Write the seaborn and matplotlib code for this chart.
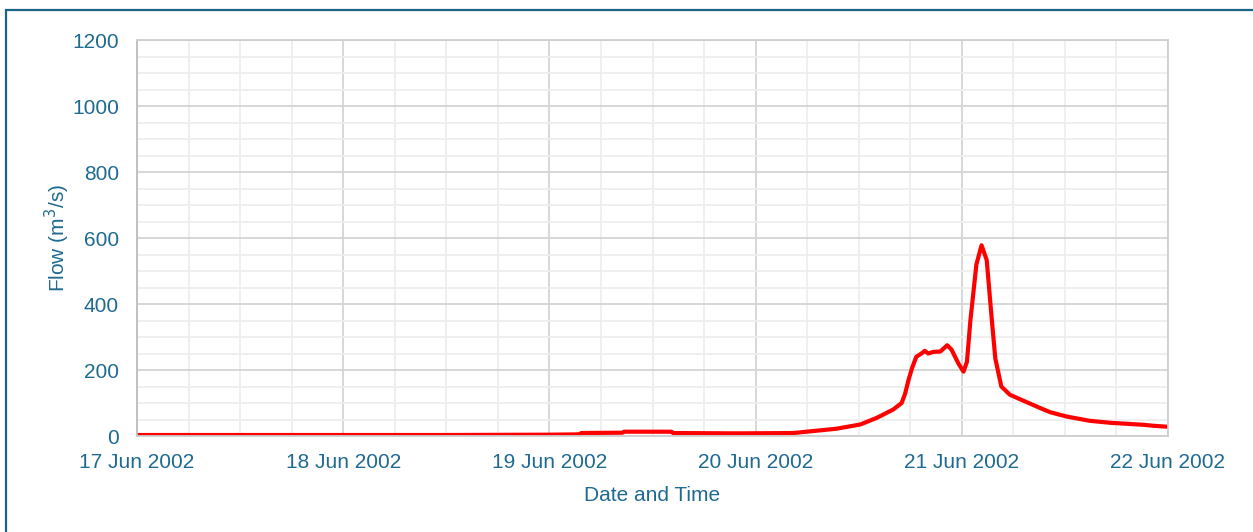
import pandas as pd
import matplotlib
matplotlib.use("Agg")
import matplotlib.pyplot as plt
import matplotlib.dates as mdates
import seaborn as sns
from matplotlib.patches import Rectangle

hours = [0, 12, 24, 36, 48, 51.5, 51.7, 56.5, 56.7, 62.2, 62.4, 70, 76.4,
         78.7, 81.4, 84.2, 86.1, 88.0, 89.0, 89.4, 89.8, 90.2, 90.7, 91.3,
         91.7, 92.1, 92.7, 93.5, 94.3, 94.8, 95.6, 96.2, 96.6, 97.0, 97.7,
         98.3, 98.9, 99.5, 99.9, 100.6, 101.6, 103.6, 105.1, 106.3, 108.2,
         110.9, 113.3, 115.2, 117.1, 118.3, 120]
flow = [3, 3, 3, 3, 4, 5, 9, 10, 13, 13, 9, 8, 9,
        15, 22, 35, 55, 80, 100, 128, 170, 205, 240, 250,
        258, 250, 255, 256, 275, 262, 220, 195, 225, 350, 520,
        578, 533, 350, 235, 150, 125, 102, 85, 72, 59,
        46, 40, 37, 34, 31, 28]

y_ticks = [0, 200, 400, 600, 800, 1000, 1200]
x_label = "Date and Time"
y_label = "Flow (m$^3$/s)"

start = pd.Timestamp("2002-06-17 00:00")
df = pd.DataFrame({"time": start + pd.to_timedelta(hours, unit="h"), "flow": flow})

TXT = "#1F6A90"
sns.set_style("white")
plt.rcParams["font.family"] = ["Liberation Sans", "DejaVu Sans"]

fig = plt.figure(figsize=(12.53, 5.32), dpi=100)
ax = fig.add_axes([137 / 1253, 1 - 436 / 532, 1031 / 1253, 396 / 532])

# grid first so the line sits on top
ax.set_axisbelow(True)
ax.set_xlim(start, start + pd.Timedelta(days=5))
ax.set_ylim(0, 1200)
ax.set_yticks(y_ticks)
ax.set_yticks(range(0, 1201, 50), minor=True)
ax.xaxis.set_major_locator(mdates.DayLocator())
ax.xaxis.set_minor_locator(mdates.HourLocator(byhour=[6, 12, 18]))
ax.xaxis.set_major_formatter(mdates.DateFormatter("%d %b %Y"))
ax.grid(which="major", color="#d4d4d4", linewidth=1.3)
ax.grid(which="minor", color="#eeeeee", linewidth=1.3)

sns.lineplot(data=df, x="time", y="flow", ax=ax, color="#FF0000", linewidth=3.0)

for side in ["left", "bottom", "top", "right"]:
    ax.spines[side].set_color("#cfcfcf")
    ax.spines[side].set_linewidth(1.3)
ax.spines["left"].set_color("#bdbdbd")

ax.tick_params(which="both", length=0, labelsize=15, labelcolor=TXT)
ax.tick_params(axis="y", pad=13)
ax.tick_params(axis="x", pad=12)
ax.set_xlabel(x_label, fontsize=15, color=TXT, labelpad=10)
ax.set_ylabel(y_label, fontsize=15, color=TXT, labelpad=0)

# frame around the whole figure (open on right and bottom in the crop)
fig.patches.append(Rectangle((6 / 1253, -0.1), 1.2, 1 - 10 / 532 + 0.1,
                             transform=fig.transFigure, fill=False,
                             edgecolor="#1B6486", linewidth=1.6))

fig.savefig("out.png", dpi=100)
